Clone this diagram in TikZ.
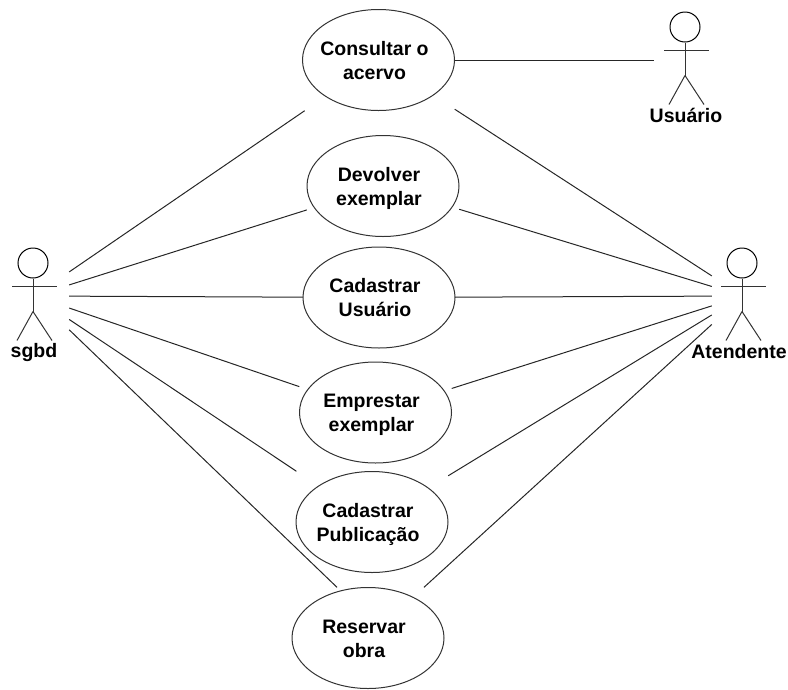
\documentclass[tikz,border=0pt]{standalone}
\usepackage{fontspec}
\setmainfont{Liberation Sans}
\usetikzlibrary{positioning}
\tikzstyle{usecase} = [rectangle, minimum width=152pt, minimum height=101pt, inner sep=0pt, font=\fontsize{19.5}{24}\selectfont\bfseries]
\tikzstyle{actor} = [rectangle, minimum height=120pt, inner sep=0pt]
\tikzstyle{head} = [circle, draw=black, line width=1pt, minimum size=30pt, inner sep=0pt]
\tikzstyle{actorname} = [inner sep=0pt, font=\fontsize{19.5}{20}\selectfont\bfseries]
\tikzstyle{line} = [line width=1pt, draw=black!85]
\tikzstyle{limb} = [line width=1pt, draw=black!80]
% text sits a little left of the middle of each ellipse
\newcommand{\casetext}[1]{\raisebox{-2.5pt}[\height][\depth]{\begin{tabular}{@{}c@{\hspace{8pt}}}#1\end{tabular}}}

\begin{document}
\begin{tikzpicture}[x=1pt, y=-1pt]
        \useasboundingbox (0,0) rectangle (788,689);

        % Use cases
        \node (consultar) [usecase] at (378.5,60) {\casetext{Consultar o\\acervo}};
        \node (devolver) [usecase] at (383,186) {\casetext{Devolver\\exemplar}};
        \node (usuariocad) [usecase] at (379,297.5) {\casetext{Cadastrar\\Usuário}};
        \node (emprestar) [usecase] at (375.5,412.5) {\casetext{Emprestar\\exemplar}};
        \node (publicacao) [usecase] at (372,522) {\casetext{Cadastrar\\Publicação}};
        \node (reservar) [usecase] at (368,638) {\casetext{Reservar\\obra}};

        \foreach \n in {consultar,devolver,usuariocad,emprestar,publicacao,reservar}
            \draw [limb] (\n.center) ellipse [x radius=76, y radius=50.5];

        % Actors
        \node (sgbd) [actor, minimum width=70pt] at (34,296) {};
        \node (usuario) [actor, minimum width=64pt] at (686,60) {};
        \node (atendente) [actor, minimum width=62pt] at (743,296) {};

        \foreach \n in {sgbd,usuario,atendente} {
            \node (\n head) [head] at ([shift={(-1,-33)}]\n.center) {};
            \draw [limb] (\n head.south) -- ++(0,33) coordinate (\n hip);
            \draw [limb] ([shift={(-22,-10)}]\n.center) -- ([shift={(23,-10)}]\n.center);
            \draw [limb] (\n hip) -- ++(-16,29);
            \draw [limb] (\n hip) -- ++(19,29);
        }

        \node (sgbdname) [actorname] at (34,352) {sgbd};
        \node (usuarioname) [actorname] at (686,115) {Usuário};
        \node (atendentename) [actorname] at (739,352) {Atendente};

        % Associations
        \draw [line] (consultar) -- (usuario);
        \foreach \n in {consultar,devolver,usuariocad,emprestar,publicacao} {
            \draw [line] (sgbd) -- (\n);
            \draw [line] (\n) -- (atendente);
        }
        \draw [line] (sgbd) -- ([xshift=-31pt]reservar.north);
        \draw [line] ([xshift=56pt]reservar.north) -- (atendente);

\end{tikzpicture}
\end{document}
